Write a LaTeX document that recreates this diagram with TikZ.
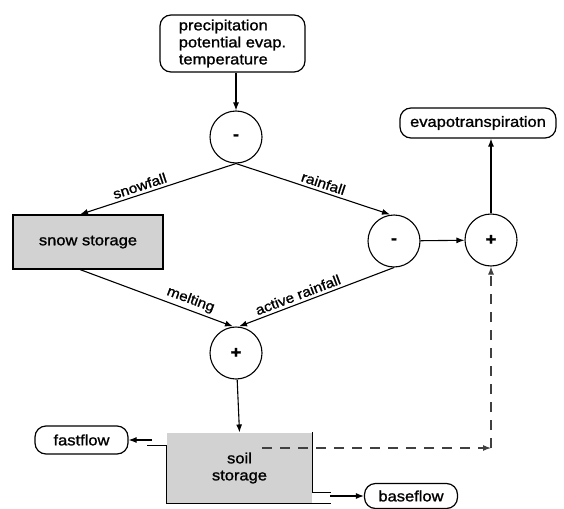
\documentclass[tikz,border=0pt]{standalone}
\usepackage{fontspec}
\setmainfont{Liberation Sans}[FakeStretch=1.1, FakeBold=1.2]
\usetikzlibrary{arrows.meta}
\begin{document}
\begin{tikzpicture}[x=1pt,y=-1pt, line width=1.1pt,
  every node/.style={font=\fontsize{15}{17}\selectfont},
  op/.style={circle,draw,minimum size=52pt,inner sep=0pt,font=\fontsize{17}{17}\selectfont\bfseries},
  rbox/.style={draw,rounded corners=11pt,inner sep=3pt,line width=1.2pt},
  store/.style={draw,fill=gray!35,line width=1.1pt},
  arr/.style={-{Latex[length=8pt,width=6pt]}},
  lbl/.style={font=\fontsize{14}{14}\selectfont,inner sep=3pt},
  dsh/.style={dash pattern=on 10pt off 8pt, draw=black!75}]
\useasboundingbox (0,0) rectangle (564,508);

\node[rbox, minimum width=145pt, minimum height=57pt, align=left] (in) at (232.5,43.5) {precipitation\\potential evap.\\temperature};
\node[op] (m1) at (236,137) {-};
\node[store, minimum width=150pt, minimum height=54pt] (snow) at (88,242) {snow storage};
\node[op] (m2) at (394,241) {-};
\node[op] (p2) at (491,240) {+};
\node[rbox, minimum width=156pt, minimum height=30pt] (evap) at (478,123) {evapotranspiration};
\node[op] (p1) at (236,353) {+};
\node[fill=gray!35, minimum width=145pt, minimum height=70pt, align=center, inner sep=0pt] (soil) at (239.5,468) {soil\\storage};
\node[rbox, minimum width=93pt, minimum height=28pt] (fast) at (81.5,440) {fastflow};
\node[rbox, minimum width=93pt, minimum height=25pt] (base) at (411,496) {baseflow};

% soil storage walls
\draw ([xshift=-19pt,yshift=-13pt]soil.north west) -- ([yshift=-13pt]soil.north west) -- (soil.south west) -- ([xshift=18pt]soil.south east);
\draw (soil.north east) -- ([yshift=11pt]soil.south east) -- ([xshift=18pt,yshift=11pt]soil.south east);

% connectors
\draw[arr] (m1.north |- in.south) -- (m1.north);
\draw[arr] (m1.south) -- node[lbl, pos=0.6, above, sloped] {snowfall} ([xshift=-8pt]snow.north);
\draw[arr] (m1.south) -- node[lbl, pos=0.55, above, sloped] {rainfall} ([xshift=-4pt]m2.north);
\draw[arr] ([xshift=-8pt]snow.south) -- node[lbl, pos=0.7, above, sloped] {melting} ([xshift=-3pt]p1.north);
\draw[arr] (m2.south) -- node[lbl, pos=0.6, above, sloped] {active rainfall} ([xshift=3pt]p1.north);
\draw[arr] (m2) -- (p2);
\draw[arr] (p2.north) -- (p2.north |- evap.south);
\draw[arr] (p1) -- (soil.north);

\coordinate (fo) at (152,440);
\draw[arr] (fo) -- (fast.east);
\coordinate (bo) at (330,496);
\draw[arr] (bo) -- (base.west);

\coordinate (d0) at (262,448);
\coordinate (dc) at (491,448);
\draw[dsh, arr] (d0) -- (dc);
\draw[dsh, arr] (dc) -- (p2.south);
\end{tikzpicture}
\end{document}
